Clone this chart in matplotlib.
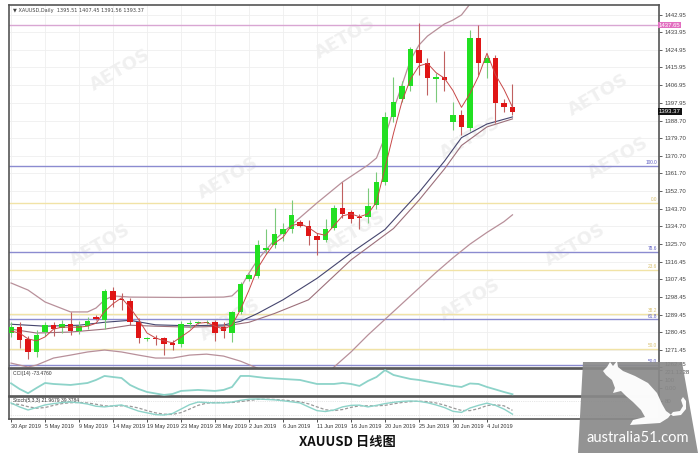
import matplotlib
matplotlib.use("Agg")
import matplotlib.pyplot as plt
from matplotlib.patches import Polygon
import matplotlib.transforms as mtransforms

# ---------------- data ----------------
x_tick_labels = ["30 Apr 2019", "5 May 2019", "9 May 2019", "14 May 2019", "19 May 2019",
                 "23 May 2019", "28 May 2019", "2 Jun 2019", "6 Jun 2019", "11 Jun 2019",
                 "16 Jun 2019", "20 Jun 2019", "25 Jun 2019", "30 Jun 2019", "4 Jul 2019"]
x_tick_bars = [0, 4, 8, 12, 16, 20, 24, 28, 32, 36, 40, 44, 48, 52, 56]

opens = [1280.0, 1283.0, 1276.8, 1270.3, 1280.5, 1284.0, 1282.6, 1284.5, 1281.0, 1283.5,
         1288.0, 1286.7, 1301.5, 1297.6, 1296.3, 1285.8, 1277.0, 1277.5, 1277.3, 1274.7,
         1274.2, 1284.5, 1285.0, 1285.3, 1285.5, 1282.9, 1280.0, 1290.6, 1307.8, 1309.3,
         1322.5, 1325.2, 1330.8, 1333.3, 1336.8, 1335.0, 1329.5, 1327.8, 1333.8, 1344.2,
         1341.9, 1339.4, 1339.5, 1345.5, 1357.5, 1390.4, 1399.6, 1406.4, 1424.9, 1418.4,
         1410.0, 1410.9, 1388.2, 1391.6, 1384.8, 1430.9, 1418.1, 1420.6, 1397.9, 1395.51]
highs = [1285.5, 1285.5, 1278.5, 1281.5, 1285.5, 1285.8, 1286.5, 1291.0, 1286.0, 1288.0,
         1289.0, 1302.5, 1303.5, 1300.5, 1298.0, 1287.7, 1278.0, 1279.0, 1278.0, 1276.5,
         1286.0, 1286.5, 1286.0, 1286.5, 1286.7, 1285.5, 1291.5, 1306.0, 1310.5, 1327.8,
         1333.0, 1344.0, 1336.5, 1348.0, 1338.0, 1338.0, 1331.0, 1338.5, 1345.5, 1357.5,
         1343.0, 1341.0, 1354.2, 1362.6, 1393.3, 1411.2, 1409.2, 1426.5, 1438.9, 1421.0,
         1413.0, 1424.5, 1398.4, 1394.0, 1435.1, 1437.7, 1422.5, 1422.5, 1400.0, 1407.45]
lows = [1278.0, 1272.5, 1266.5, 1267.5, 1278.5, 1278.5, 1280.0, 1279.0, 1279.5, 1282.0,
        1286.5, 1282.0, 1293.5, 1292.0, 1284.0, 1274.8, 1276.0, 1274.0, 1269.0, 1271.5,
        1273.0, 1282.5, 1284.5, 1284.8, 1276.0, 1277.5, 1275.5, 1289.5, 1306.5, 1308.0,
        1320.5, 1323.5, 1327.0, 1331.0, 1334.5, 1325.0, 1320.0, 1326.5, 1332.5, 1338.9,
        1336.5, 1333.0, 1336.5, 1343.5, 1356.0, 1388.0, 1398.0, 1404.0, 1412.1, 1401.8,
        1398.4, 1404.0, 1383.9, 1381.4, 1383.5, 1412.1, 1410.6, 1387.5, 1393.0, 1391.56]
closes = [1283.0, 1276.5, 1270.3, 1279.0, 1284.0, 1282.2, 1284.8, 1281.0, 1283.8, 1286.0,
          1287.0, 1301.6, 1297.0, 1296.8, 1285.8, 1277.6, 1277.5, 1277.0, 1274.2, 1273.8,
          1284.5, 1285.0, 1285.4, 1285.8, 1279.8, 1280.9, 1290.8, 1305.2, 1309.5, 1325.2,
          1323.5, 1330.9, 1333.5, 1340.2, 1335.0, 1329.5, 1327.8, 1333.3, 1344.0, 1341.1,
          1338.2, 1338.7, 1345.0, 1357.5, 1390.7, 1398.4, 1406.4, 1425.2, 1418.4, 1410.4,
          1411.2, 1409.5, 1391.6, 1385.3, 1430.9, 1418.1, 1420.6, 1397.9, 1395.55, 1393.37]

# fast moving average (red), one value per bar
fast_ma = [1281, 1280, 1277, 1276, 1278, 1282, 1283, 1283, 1283, 1283.5,
           1285, 1291, 1295, 1298, 1293, 1287, 1280, 1277.5, 1276, 1275,
           1278, 1281, 1285, 1285.4, 1283.5, 1282, 1284, 1292, 1302, 1313,
           1320, 1326, 1329, 1335, 1336, 1334, 1331, 1330, 1335, 1340,
           1341, 1339.5, 1341, 1347, 1364.4, 1382.2, 1398.5, 1410, 1416.7, 1418,
           1413.3, 1410.4, 1404.1, 1395.5, 1402.6, 1411.4, 1423.2, 1412.2, 1404.7, 1395.6]

# Bollinger bands and slow MA, read at key bars
bb_up_bars = [0, 2, 4, 7, 9, 10, 11, 12, 14, 20, 25, 26, 27, 28, 29, 31, 33, 36, 39, 42,
              43, 44, 45, 46, 47, 48, 49, 50, 51, 52, 53, 54, 55, 56, 57, 58, 59]
bb_up_vals = [1305.6, 1302.0, 1295.9, 1290.8, 1290.8, 1292.8, 1296.9, 1299.0, 1298.4, 1298.2,
              1298.4, 1299.0, 1303.1, 1310.7, 1317.4, 1327.6, 1335.3, 1346.6, 1357.3, 1366.0,
              1369.6, 1380.4, 1394.2, 1406.9, 1419.8, 1427.4, 1432.0, 1435.1, 1438.2, 1440.2,
              1442.8, 1448.4, 1452.0, 1453.0, 1452.0, 1450.0, 1448.5]
bb_lo_bars = [0, 1, 2, 3, 5, 7, 9, 11, 13, 15, 17, 19, 21, 23, 25, 27, 29, 31, 33, 35,
              37, 38, 40, 42, 44, 46, 48, 50, 52, 54, 56, 58, 59]
bb_lo_vals = [1264.6, 1263.6, 1262.6, 1263.6, 1267.2, 1268.7, 1270.3, 1271.3, 1270.3, 1268.7,
              1267.2, 1267.2, 1268.7, 1269.2, 1268.2, 1265.6, 1262.0, 1255.0, 1250.0, 1252.0,
              1258.0, 1262.6, 1270.3, 1279.0, 1287.0, 1295.0, 1303.0, 1311.0, 1318.5, 1325.5,
              1331.5, 1337.0, 1340.5]
bb_mid_bars = [0, 3, 7, 11, 14, 17, 21, 25, 28, 31, 35, 40, 45, 48, 51, 53, 56, 59]
bb_mid_vals = [1282.0, 1280.0, 1280.5, 1282.0, 1284.0, 1283.5, 1283.0, 1283.5, 1285.5, 1290.0,
               1297.0, 1317.4, 1333.5, 1348.0, 1364.0, 1376.0, 1385.5, 1389.6]
slow_ma_bars = [0, 4, 8, 11, 14, 17, 21, 25, 27, 29, 32, 36, 40, 44, 48, 51, 53, 56, 59]
slow_ma_vals = [1284.5, 1283.5, 1284.0, 1285.5, 1286.5, 1284.2, 1283.7, 1284.1, 1286.0, 1290.0,
                1297.0, 1308.0, 1321.0, 1333.0, 1352.0, 1368.0, 1380.0, 1387.0, 1390.6]

# horizontal levels (price, label, kind)
level_prices = [1437.65, 1365.65, 1346.7, 1321.6, 1312.3, 1289.8, 1287.0, 1271.8, 1263.6]
level_labels = ["", "100.0", "0.0", "78.6", "23.6", "38.2", "61.8", "50.0", "50.0"]
level_kinds = ["pink", "blue", "yellow", "blue", "yellow", "yellow", "blue", "yellow", "blue"]

price_ticks = [1442.95, 1433.95, 1424.95, 1415.95, 1406.95, 1397.95, 1388.70, 1379.70, 1370.70,
               1361.70, 1352.70, 1343.70, 1334.70, 1325.70, 1316.45, 1307.45, 1298.45, 1289.45,
               1280.45, 1271.45, 1262.45]

cci = [60, -9, -61, 3, 64, 52, 46, 40, 52, 64, 101, 150, 137, 125, 40, -9, -46, -64, -82, -70,
       -33, -27, -21, -27, -33, -21, 15, 150, 150, 137, 125, 119, 113, 107, 101, 76, 52, 52, 52, 64,
       52, 28, 89, 137, 221.12, 162, 137, 113, 101, 82, 64, 46, 28, 15, 58, 52, 15, -15, -46, -73.476]
stoch_main = [73, 55, 41, 52, 64, 70, 75, 77, 74, 68, 58, 55, 60, 64, 50, 36, 28, 20, 18, 25,
              45, 65, 77, 75, 73, 74, 77, 85, 90, 91, 89, 87, 83, 78, 73, 55, 38, 34, 41, 55,
              62, 63, 55, 62, 70, 76, 80, 82, 80, 74, 64, 52, 35, 30, 50, 62, 72, 62, 45, 21.97]
stoch_signal = [70, 66, 56, 49, 52, 62, 70, 74, 75, 73, 67, 60, 58, 60, 58, 50, 38, 28, 22, 21,
                29, 45, 62, 72, 75, 74, 75, 79, 84, 89, 90, 89, 86, 83, 78, 69, 55, 42, 38, 43,
                53, 60, 60, 60, 62, 69, 75, 79, 81, 79, 73, 63, 50, 39, 38, 47, 61, 65, 60, 39.38]

# ---------------- layout ----------------
W, H = 700, 457
fig = plt.figure(figsize=(7, 4.57), dpi=100)
fig.patch.set_facecolor("white")


def rect(x0, y0, x1, y1):
    return [x0 / W, 1 - y1 / H, (x1 - x0) / W, (y1 - y0) / H]


bg = fig.add_axes([0, 0, 1, 1], zorder=0)
bg.set_xlim(0, W)
bg.set_ylim(H, 0)
bg.axis("off")

L, R = 9, 659
ax = fig.add_axes(rect(L, 5, R, 368), zorder=2)
ax_c = fig.add_axes(rect(L, 369, R, 396), zorder=2, sharex=ax)
ax_s = fig.add_axes(rect(L, 397, R, 419), zorder=2, sharex=ax)
top = fig.add_axes([0, 0, 1, 1], zorder=10)
top.set_xlim(0, W)
top.set_ylim(H, 0)
top.axis("off")

n = len(closes)
xs = list(range(n))
XMIN, XMAX = -0.24, 76.24
grid_c = "#efefef"
lab_font = "Liberation Sans"

for a in (ax, ax_c, ax_s):
    a.set_facecolor("none")
    a.set_xlim(XMIN, XMAX)
    for s in a.spines.values():
        s.set_color("#555555")
        s.set_linewidth(1.2)
    a.yaxis.tick_right()
    a.tick_params(axis="y", length=2.5, width=0.6, colors="#444444", labelsize=4.3, pad=1.5)
    a.tick_params(axis="x", length=0, labelbottom=False)
    for xb in x_tick_bars:
        a.axvline(xb, color=grid_c, lw=0.6, zorder=0)

# watermarks
wm_pos = [(120, 70), (345, 38), (598, 95), (228, 178), (470, 138), (618, 158),
          (100, 245), (355, 232), (575, 245), (230, 320), (470, 300)]
for (wx, wy) in wm_pos:
    bg.text(wx, wy, "AETOS", rotation=30, fontsize=13, fontweight="bold", color="#f0f0f0",
            ha="center", va="center", family="DejaVu Sans")

# ---------------- main price panel ----------------
ax.set_ylim(1262.1, 1447.9)
ax.set_yticks(price_ticks)
ax.set_yticklabels([f"{v:.2f}" for v in price_ticks], family=lab_font)
ax.get_yticklabels()[-1].set_va("bottom")
for v in price_ticks:
    ax.axhline(v, color=grid_c, lw=0.6, zorder=0)

ytr = mtransforms.blended_transform_factory(ax.transAxes, ax.transData)
level_colors = {"pink": "#d9a6d3", "blue": "#8b8bd0", "yellow": "#f1e3a6"}
label_colors = {"pink": "#c070b0", "blue": "#5a5ac0", "yellow": "#d8c070"}
for p, lab, k in zip(level_prices, level_labels, level_kinds):
    ax.axhline(p, color=level_colors[k], lw=1.0, zorder=1)
    if lab:
        ax.text(0.997, p + 0.4, lab, transform=ytr, ha="right", va="bottom",
                fontsize=3.4, color=label_colors[k], family=lab_font)

ax.plot(bb_up_bars, bb_up_vals, color="#b8909a", lw=0.9, zorder=2)
ax.plot(bb_lo_bars, bb_lo_vals, color="#b8909a", lw=0.9, zorder=2)
ax.plot(bb_mid_bars, bb_mid_vals, color="#9c6f7a", lw=0.8, zorder=2)
ax.plot(slow_ma_bars, slow_ma_vals, color="#45456e", lw=0.8, zorder=2)

up_c, dn_c = "#22e022", "#e01515"
for i in xs:
    o, h, l, c = opens[i], highs[i], lows[i], closes[i]
    bull = c >= o
    ax.vlines(i, l, h, color="#7bc97b" if bull else "#c06060", lw=0.8, zorder=3)
    bottom = min(o, c)
    height = max(abs(c - o), 0.6)
    ax.bar(i, height, bottom=bottom, width=0.62, color=up_c if bull else dn_c,
           edgecolor="none", zorder=4)

ax.plot(xs, fast_ma, color="#c84848", lw=0.7, zorder=5)

ax.text(0.006, 0.993, "\u25bc XAUUSD,Daily  1395.51 1407.45 1391.56 1393.37", transform=ax.transAxes,
        ha="left", va="top", fontsize=3.6, color="#444444", family=["DejaVu Sans"])

# price boxes on right axis
ax.text(1.0, 1437.65, "1437.65", transform=ytr, ha="left", va="center", fontsize=4.3,
        color="white", family=lab_font,
        bbox=dict(boxstyle="square,pad=0.12", fc="#e26ec0", ec="none"), zorder=20, clip_on=False)
ax.text(1.0, closes[-1], f"{closes[-1]:.2f}", transform=ytr, ha="left", va="center", fontsize=4.3,
        color="white", family=lab_font,
        bbox=dict(boxstyle="square,pad=0.12", fc="#111111", ec="none"), zorder=20, clip_on=False)

# ---------------- CCI panel ----------------
ax_c.set_ylim(-95, 235)
ax_c.set_yticks([221.12, 100, 0])
ax_c.set_yticklabels(["221.1228", "100", "0.00"], family=lab_font)
ax_c.get_yticklabels()[0].set_va("top")
ax_c.plot(xs, cci, color="#8dd3c9", lw=1.3, zorder=3)
ax_c.text(0.006, 0.93, "CCI(14) -73.4760", transform=ax_c.transAxes, ha="left", va="top",
          fontsize=3.6, color="#333333", family=lab_font)

# ---------------- Stochastic panel ----------------
ax_s.set_ylim(0, 100)
ax_s.set_yticks([80, 20])
ax_s.set_yticklabels(["80", "20"], family=lab_font)
for lv in (20, 80):
    ax_s.axhline(lv, color="#d0d0d0", lw=0.5, ls=":", zorder=1)
ax_s.plot(xs, stoch_signal, color="#9a9a9a", lw=0.9, ls=(0, (2.5, 1.5)), zorder=3)
ax_s.plot(xs, stoch_main, color="#8dd3c9", lw=1.0, zorder=4)
ax_s.text(0.006, 0.95, "Stoch(5,3,3) 21.9679 39.3784", transform=ax_s.transAxes, ha="left",
          va="top", fontsize=3.6, color="#333333", family=lab_font)

ax_s.set_xticks(x_tick_bars)
ax_s.set_xticklabels(x_tick_labels, family=lab_font)
ax_s.tick_params(axis="x", length=2, width=0.6, labelbottom=True, labelsize=4.0,
                 colors="#333333", pad=1.5)
for t in ax_s.get_xticklabels():
    t.set_ha("left")

# ---------------- logo overlay & caption ----------------
top.add_patch(Polygon([(583, 362), (682, 362), (698, 453), (578, 453)], closed=True,
                      fc="#8a8a8a", ec="none", alpha=0.92))
kangaroo = [(603, 371), (607, 367), (610, 362), (613, 366), (617, 361), (618, 367), (623, 371),
            (635, 376), (648, 383), (657, 393), (662, 404), (666, 411), (673, 416), (681, 415),
            (686, 409), (686, 401), (683, 397), (681, 400), (683, 406), (680, 411), (673, 412),
            (668, 418), (660, 423), (630, 425), (633, 420), (645, 417), (641, 410), (633, 402),
            (626, 396), (621, 391), (613, 393), (615, 388), (612, 380), (606, 375)]
top.add_patch(Polygon(kangaroo, closed=True, fc="white", ec="none", alpha=0.97))
top.text(638, 438, "australia51.com", ha="center", va="center", fontsize=10.5, color="white",
         family="Lato")
top.text(347, 442, "XAUUSD 日线图", ha="center", va="center", fontsize=9.5, fontweight="bold",
         color="#111111", family=["Noto Sans CJK SC", "DejaVu Sans"])

fig.savefig("out.png", dpi=100, facecolor="white")
